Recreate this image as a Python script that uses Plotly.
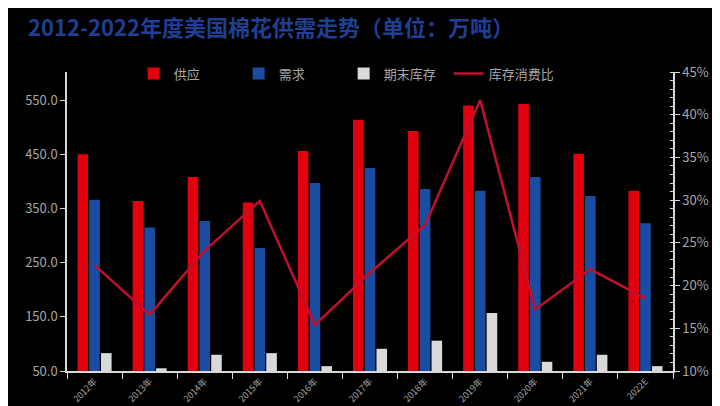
import plotly.graph_objects as go

categories = ["2012年", "2013年", "2014年", "2015年", "2016年", "2017年",
              "2018年", "2019年", "2020年", "2021年", "2022E"]
supply = [450, 364, 408, 361, 456, 514, 493, 540, 543, 451, 383]
demand = [366, 315, 327, 277, 397, 425, 386, 383, 408, 373, 323]
ending_stock = [83, 55, 80, 83, 59, 91, 106, 157, 67, 80, 59]
stock_ratio = [0.224, 0.166, 0.241, 0.299, 0.154, 0.215, 0.271, 0.417, 0.172, 0.219, 0.185]

GRID = "#D9D9D9"
TXT = "#A6A6A6"
FONT = "Noto Sans CJK SC"

fig = go.Figure()
fig.add_trace(go.Bar(x=categories, y=supply, name="供应", marker=dict(color="#E0000E", line=dict(width=0))))
fig.add_trace(go.Bar(x=categories, y=demand, name="需求", marker=dict(color="#1A4DA0", line=dict(width=0))))
fig.add_trace(go.Bar(x=categories, y=ending_stock, name="期末库存", marker=dict(color="#D9D9D9", line=dict(width=0))))
fig.add_trace(go.Scatter(x=categories, y=stock_ratio, name="库存消费比", yaxis="y2", mode="lines",
                         line=dict(color="#C0102E", width=2.5)))

fig.update_layout(
    width=720, height=406,
    paper_bgcolor="#000000", plot_bgcolor="#000000",
    margin=dict(l=59, r=55, t=64, b=43),
    barmode="group", bargap=0.36, bargroupgap=0.1,
    font=dict(family=FONT, color=TXT, size=13),
    showlegend=True,
    legend=dict(orientation="h", x=0.11, xanchor="left", y=0.995, yanchor="middle",
                font=dict(family=FONT, color=TXT, size=13), bgcolor="rgba(0,0,0,0)",
                itemwidth=30, entrywidth=60, entrywidthmode="pixels", traceorder="normal"),
    xaxis=dict(showline=True, linecolor=GRID, linewidth=1.5, ticks="outside", tickson="boundaries",
               ticklen=6, tickcolor=GRID, tickangle=-45, tickfont=dict(color=TXT, size=9),
               ticklabelstandoff=0, showgrid=False, zeroline=False, automargin=False),
    yaxis=dict(range=[50, 602], tickvals=[50, 150, 250, 350, 450, 550], tickformat=".1f",
               showline=True, linecolor=GRID, linewidth=1.5, ticks="outside", ticklen=5,
               tickcolor=GRID, showgrid=False, zeroline=False, tickfont=dict(color=TXT, size=13),
               automargin=False),
    yaxis2=dict(range=[0.10, 0.45], dtick=0.05, tick0=0.10, tickformat=".0%", overlaying="y", side="right",
                showline=True, linecolor=GRID, linewidth=1.5, ticks="outside", ticklen=5, tickcolor=GRID,
                minor=dict(dtick=0.01, ticks="inside", ticklen=3, tickcolor=GRID),
                showgrid=False, zeroline=False, tickfont=dict(color=TXT, size=13), automargin=False),
    annotations=[dict(text="<b>2012-2022年度美国棉花供需走势（单位：万吨）</b>", xref="paper", yref="paper",
                      x=-0.067, y=1.0, xanchor="left", yanchor="bottom", yshift=28, showarrow=False,
                      font=dict(family=FONT, size=22, color="#1F3F95"))],
)

fig.write_html("out.html")
